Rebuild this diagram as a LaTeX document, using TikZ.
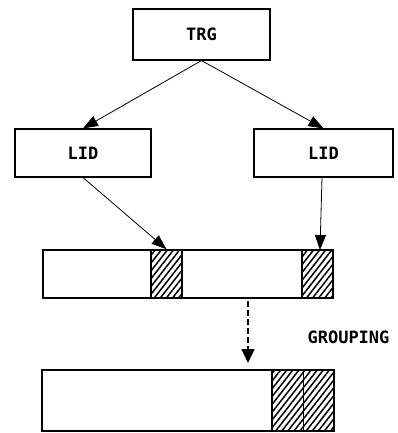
\documentclass[tikz,border=0pt]{standalone}
\usepackage{fontspec}
\newfontfamily\monofnt{DejaVu Sans Mono}
\usetikzlibrary{arrows.meta,patterns.meta}
\tikzset{
  box/.style={draw, line width=1.1pt, inner sep=0pt, font=\monofnt\bfseries\fontsize{17}{17}\selectfont},
  hatch/.style={draw, line width=1.1pt, inner sep=0pt, pattern={Lines[angle=52,distance=4.8pt,line width=1.5pt]}},
  arr/.style={line width=0.8pt, -{Triangle[length=15pt,width=11pt]}},
  dasharr/.style={line width=1.4pt, dash pattern=on 6pt off 3pt, -{Triangle[length=14pt,width=13pt]}},
  lbl/.style={font=\monofnt\bfseries\fontsize{17}{17}\selectfont, inner sep=0pt}
}
\begin{document}
\begin{tikzpicture}[x=1pt,y=-1pt]
\useasboundingbox (0,0) rectangle (398,433);
% top boxes
\node[box, minimum width=137pt, minimum height=51pt] (trg) at (201.5,34.5) {TRG};
\node[box, minimum width=136pt, minimum height=48pt] (lidL) at (83,153) {LID};
\node[box, minimum width=139pt, minimum height=48pt] (lidR) at (323.5,153) {LID};
% first bar
\node[box, minimum width=290pt, minimum height=48pt] (bar1) at (188,274) {};
\node[hatch, minimum width=31pt, minimum height=48pt] (h1) at (166.5,274) {};
\node[hatch, minimum width=31pt, minimum height=48pt] (h2) at (317.5,274) {};
% second bar
\node[box, minimum width=292pt, minimum height=61pt] (bar2) at (188,400.5) {};
\node[hatch, minimum width=62pt, minimum height=61pt] (h3) at (303,400.5) {};
\draw[line width=0.6pt] (h3.north) -- (h3.south);
% connectors
\draw[arr] (trg.south) -- (lidL.north);
\draw[arr] (trg.south) -- (lidR.north);
\draw[arr] (lidL.south) -- (h1.north);
\coordinate (r0) at (322,177);
\coordinate (r1) at (320,250);
\draw[arr] (r0) -- (r1);
\coordinate (d0) at (248,301);
\coordinate (d1) at (248,363);
\draw[dasharr] (d0) -- (d1);
\node[lbl] (grp) at (348.5,337) {GROUPING};
\end{tikzpicture}
\end{document}
